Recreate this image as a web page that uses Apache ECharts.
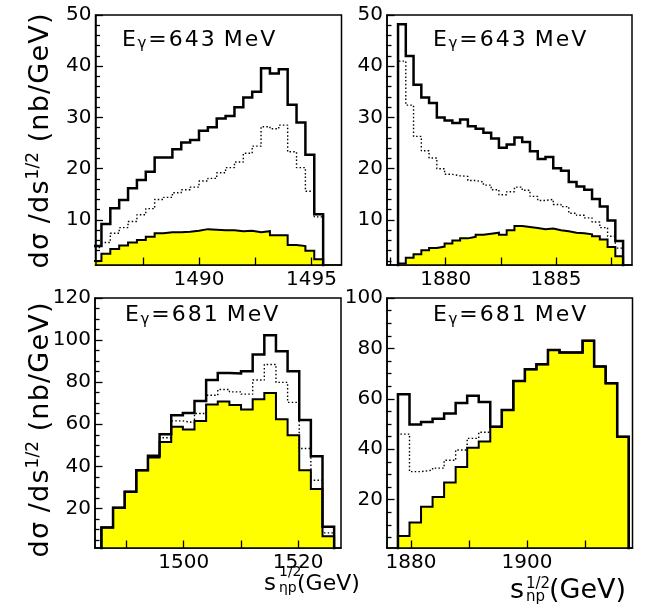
<!DOCTYPE html>
<html><head><meta charset="utf-8">
<script src="https://cdn.jsdelivr.net/npm/echarts@6/dist/echarts.min.js"></script>
<style>html,body{margin:0;padding:0;background:#fff}#c{width:648px;height:608px}</style>
</head><body><div id="c"></div>
<script>
// ---------------- DATA ----------------
// Panel 1: E_gamma = 643 MeV, s^1/2 near 1490 (bins of ~0.39)
const p1BinStart = 1485.27, p1BinWidth = 0.394;
const p1Black  = [4.9, 9.2, 12.3, 13.9, 16.2, 17.8, 19.4, 22.2, 22.2, 23.8, 25.1, 25.6, 27.4, 28.1, 29.8, 30.3, 32.0, 33.9, 35.0, 39.6, 38.6, 39.4, 32.5, 29.0, 22.7, 11.1];
const p1Dotted = [4.6, 5.6, 7.4, 8.5, 9.7, 11.0, 12.2, 14.0, 14.4, 15.3, 15.9, 16.4, 17.6, 18.1, 19.2, 20.2, 21.3, 23.0, 24.4, 28.2, 27.8, 28.5, 23.3, 20.2, 15.6, 10.6];
const p1Yellow = [2.0, 3.4, 4.3, 5.0, 5.6, 6.1, 6.7, 7.4, 7.6, 7.6, 7.7, 7.9, 8.2, 8.1, 8.0, 8.0, 7.8, 7.9, 7.6, 7.8, 7.0, 7.0, 5.1, 4.9, 4.0, 2.3];

// Panel 2: E_gamma = 643 MeV, s^1/2 near 1880
const p2BinStart = 1877.84, p2BinWidth = 0.3516;
const p2Black  = [48.2, 42.0, 36.4, 33.9, 32.8, 30.0, 29.4, 28.9, 29.6, 28.3, 27.8, 27.0, 25.9, 24.1, 24.7, 26.1, 25.2, 23.4, 21.9, 22.3, 20.1, 19.6, 17.4, 16.5, 15.9, 14.1, 12.6, 9.9, 5.9];
const p2Dotted = [41.0, 32.4, 26.3, 23.5, 22.1, 20.0, 18.9, 18.6, 18.5, 17.7, 17.4, 16.8, 15.9, 14.9, 15.5, 16.4, 15.8, 14.6, 13.8, 14.0, 13.0, 12.6, 11.3, 10.9, 10.4, 9.6, 8.5, 6.8, 4.5];
const p2Yellow = [1.5, 2.6, 3.3, 4.1, 4.5, 4.8, 5.4, 6.0, 6.4, 6.7, 7.1, 7.3, 7.5, 7.1, 8.0, 8.8, 8.6, 8.4, 8.2, 8.3, 8.0, 7.8, 7.5, 7.4, 7.2, 6.8, 6.2, 4.7, 2.9];

// Panel 3: E_gamma = 681 MeV, s^1/2 near 1500
const p3BinStart = 1485.6, p3BinWidth = 2.035;
const p3Black  = [11.0, 20.3, 27.9, 38.2, 45.0, 55.2, 64.3, 65.4, 71.0, 81.0, 84.4, 84.1, 85.2, 93.2, 102.3, 94.7, 85.2, 62.0, 44.8, 11.3];
const p3Dotted = [11.0, 20.3, 27.9, 38.2, 44.5, 53.6, 61.6, 60.7, 65.1, 73.8, 76.5, 75.4, 74.3, 81.0, 88.4, 79.9, 70.4, 48.5, 33.4, 8.4];
const p3Yellow = [11.0, 20.3, 27.9, 38.2, 44.2, 51.6, 58.8, 57.5, 61.5, 69.4, 70.8, 69.1, 67.0, 71.9, 74.9, 62.4, 54.8, 38.2, 29.2, 6.8];

// Panel 4: E_gamma = 681 MeV, s^1/2 near 1890
const p4BinStart = 1877.75, p4BinWidth = 1.99;
const p4Black  = [61.8, 49.8, 50.8, 52.1, 54.2, 58.3, 61.2, 58.7, 48.9, 55.6, 67.1, 71.7, 73.7, 79.4, 78.4, 78.4, 83.0, 72.8, 66.2, 44.9];
const p4Dotted = [46.0, 31.1, 31.7, 32.5, 35.6, 39.7, 44.3, 46.7, 48.9, 55.6, 67.1, 71.7, 73.7, 79.4, 78.4, 78.4, 83.0, 72.8, 66.2, 44.9];
const p4Yellow = [5.6, 10.9, 17.2, 21.0, 26.8, 32.9, 40.6, 43.1, 48.9, 55.6, 67.1, 71.7, 73.7, 79.4, 78.4, 78.4, 83.0, 72.8, 66.2, 44.9];

// Axis ranges and ticks
const p1XRange = [1485.4, 1496.33], p2XRange = [1877.34, 1888.44];
const p3XRange = [1484.48, 1527.5], p4XRange = [1875.86, 1918.2];
const topYRange = [1.2, 50], p3YRange = [1.2, 120], p4YRange = [0.8, 100];

const p1XTicks = [1487.5, 1490, 1492.5, 1495], p1XLabels = [1490, 1495];
const p2XTicks = [1877.5, 1880, 1882.5, 1885, 1887.5], p2XLabels = [1880, 1885];
const p3XTicks = [1490, 1500, 1510, 1520], p3XLabels = [1500, 1520];
const p4XTicks = [1880, 1890, 1900, 1910], p4XLabels = [1880, 1900];

const topYLabels = [10, 20, 30, 40, 50];
const topYMinor = [2, 4, 6, 8, 12, 14, 16, 18, 22, 24, 26, 28, 32, 34, 36, 38, 42, 44, 46, 48];
const p3YLabels = [20, 40, 60, 80, 100, 120];
const p3YMinor = [5, 10, 15, 25, 30, 35, 45, 50, 55, 65, 70, 75, 85, 90, 95, 105, 110, 115];
const p4YLabels = [20, 40, 60, 80, 100];
const p4YMinor = [5, 10, 15, 25, 30, 35, 45, 50, 55, 65, 70, 75, 85, 90, 95];

const panelTitles = ['E\u03b3=643 MeV', 'E\u03b3=643 MeV', 'E\u03b3=681 MeV', 'E\u03b3=681 MeV'];
const yTitle = 'd\u03c3 /ds|1/2| (nb/GeV)';
const xSub3 = '\u03b7p', xSub4 = 'np';

// ---------------- BUILD ----------------
const FONT = 'DejaVu Sans';
const panels = [
  {start: p1BinStart, w: p1BinWidth, black: p1Black, dotted: p1Dotted, yellow: p1Yellow, xr: p1XRange, yr: topYRange, xt: p1XTicks, xl: p1XLabels, yl: topYLabels, ym: topYMinor,
   grid: {left: 95.5, top: 15, width: 246, height: 250}},
  {start: p2BinStart, w: p2BinWidth, black: p2Black, dotted: p2Dotted, yellow: p2Yellow, xr: p2XRange, yr: topYRange, xt: p2XTicks, xl: p2XLabels, yl: topYLabels, ym: topYMinor,
   grid: {left: 387, top: 15, width: 245, height: 250}},
  {start: p3BinStart, w: p3BinWidth, black: p3Black, dotted: p3Dotted, yellow: p3Yellow, xr: p3XRange, yr: p3YRange, xt: p3XTicks, xl: p3XLabels, yl: p3YLabels, ym: p3YMinor,
   grid: {left: 95, top: 298, width: 246, height: 250}},
  {start: p4BinStart, w: p4BinWidth, black: p4Black, dotted: p4Dotted, yellow: p4Yellow, xr: p4XRange, yr: p4YRange, xt: p4XTicks, xl: p4XLabels, yl: p4YLabels, ym: p4YMinor,
   grid: {left: 387, top: 298, width: 245.5, height: 250}}
];

function histData(start, width, vals) {
  const pts = [[start, 0]];
  vals.forEach((v, i) => pts.push([start + i * width, v]));
  const end = start + vals.length * width;
  pts.push([end, vals[vals.length - 1]]);
  pts.push([end, 0]);
  return pts;
}

const grids = [], xAxes = [], yAxes = [], series = [];
panels.forEach((p, i) => {
  grids.push(Object.assign({show: true, borderColor: '#000', borderWidth: 1.5, backgroundColor: 'transparent', containLabel: false}, p.grid));
  xAxes.push({
    type: 'value', gridIndex: i, min: p.xr[0], max: p.xr[1], z: 10,
    splitLine: {show: false},
    axisLine: {show: true, lineStyle: {color: '#000', width: 1.5}},
    axisTick: {show: true, inside: true, length: 7.5, customValues: p.xt, lineStyle: {color: '#000', width: 1.3}},
    axisLabel: {show: true, customValues: p.xl, margin: 5, color: '#000', fontSize: 20, fontFamily: FONT, formatter: v => String(Math.round(v))}
  });
  yAxes.push({
    type: 'value', gridIndex: i, position: 'left', min: p.yr[0], max: p.yr[1], z: 10,
    splitLine: {show: false},
    axisLine: {show: true, lineStyle: {color: '#000', width: 1.5}},
    axisTick: {show: true, inside: true, length: 7.5, customValues: p.yl, lineStyle: {color: '#000', width: 1.3}},
    axisLabel: {show: true, customValues: p.yl, margin: 4, color: '#000', fontSize: 20, fontFamily: FONT, formatter: v => String(Math.round(v))}
  });
  yAxes.push({
    type: 'value', gridIndex: i, position: 'left', min: p.yr[0], max: p.yr[1], z: 10,
    splitLine: {show: false},
    axisLine: {show: false},
    axisTick: {show: true, inside: true, length: 4.5, customValues: p.ym, lineStyle: {color: '#000', width: 1.3}},
    axisLabel: {show: false}
  });
  const common = {type: 'line', xAxisIndex: i, yAxisIndex: 2 * i, step: 'end', symbol: 'none', silent: true, animation: false, clip: true};
  series.push(Object.assign({}, common, {
    data: histData(p.start, p.w, p.yellow), z: 2,
    lineStyle: {color: '#000', width: 2, join: 'miter'},
    areaStyle: {color: '#ffff00', opacity: 1, origin: 'start'}
  }));
  series.push(Object.assign({}, common, {
    data: histData(p.start, p.w, p.dotted), z: 3,
    lineStyle: {color: '#000', width: 1.4, type: [1.5, 2.2]}
  }));
  series.push(Object.assign({}, common, {
    data: histData(p.start, p.w, p.black), z: 4,
    lineStyle: {color: '#000', width: 2.5, join: 'miter'}
  }));
});

// ---------------- TEXT ----------------
function tok(fs, pad) { return {fontSize: fs, fontFamily: FONT, fill: '#000', padding: pad, verticalAlign: 'middle'}; }
function spaced(s, st) { return s.split('').map(ch => ch === ' ' ? '{sp| }' : '{' + st + '|' + ch + '}').join(''); }

const eRich = {c: tok(22, [0, 1, 0, 1]), sp: tok(22, [0, 0, 0, 0]), g: tok(15, [9, 1, 0, 0.5])};
function eText(t) { return spaced(t[0], 'c') + '{g|' + t[1] + '}' + spaced(t.slice(2), 'c'); }
const ePos = [[121, 40], [432, 40], [124, 315.5], [432, 315.5]];

const yParts = yTitle.split('|');
const yRich = {c: tok(27, [0, 0.6, 0, 0.6]), sp: tok(27, [0, 0, 0, 0]), u: tok(17, [0, 0.5, 15, 0.5])};
const yText = spaced(yParts[0], 'c') + '{u|' + yParts[1] + '}' + spaced(yParts[2], 'c');

function plain(x, baseline, str, fs) {
  return {type: 'text', x: x, y: baseline - 0.36 * fs, z: 100,
    style: {text: str, fill: '#000', fontSize: fs, fontFamily: FONT, align: 'left', verticalAlign: 'middle'}};
}

const graphics = [];
panelTitles.forEach((t, i) => {
  graphics.push({type: 'text', x: ePos[i][0], y: ePos[i][1], z: 100,
    style: {text: eText(t), rich: eRich, fill: '#000', fontSize: 22, fontFamily: FONT, align: 'left', verticalAlign: 'middle'}});
});
[[41, 141], [41, 430]].forEach(pos => {
  graphics.push({type: 'text', x: pos[0], y: pos[1], rotation: Math.PI / 2, z: 100,
    style: {text: yText, rich: yRich, fill: '#000', fontSize: 27, fontFamily: FONT, align: 'center', verticalAlign: 'middle'}});
});
// x-axis titles: s^{1/2}_{sub}(GeV)
graphics.push(plain(264, 592, 's', 23));
graphics.push(plain(279, 577, '1/2', 14));
graphics.push(plain(279, 593, xSub3, 14));
graphics.push(plain(297, 592, '(GeV)', 22));
graphics.push(plain(510, 601, 's', 27));
graphics.push(plain(526, 590, '1/2', 15));
graphics.push(plain(526, 603, xSub4, 15));
graphics.push(plain(549, 601, '(GeV)', 27));

const chart = echarts.init(document.getElementById('c'), null, {renderer: 'canvas'});
chart.setOption({
  animation: false,
  backgroundColor: '#fff',
  grid: grids, xAxis: xAxes, yAxis: yAxes, series: series,
  graphic: graphics
});
</script></body></html>
